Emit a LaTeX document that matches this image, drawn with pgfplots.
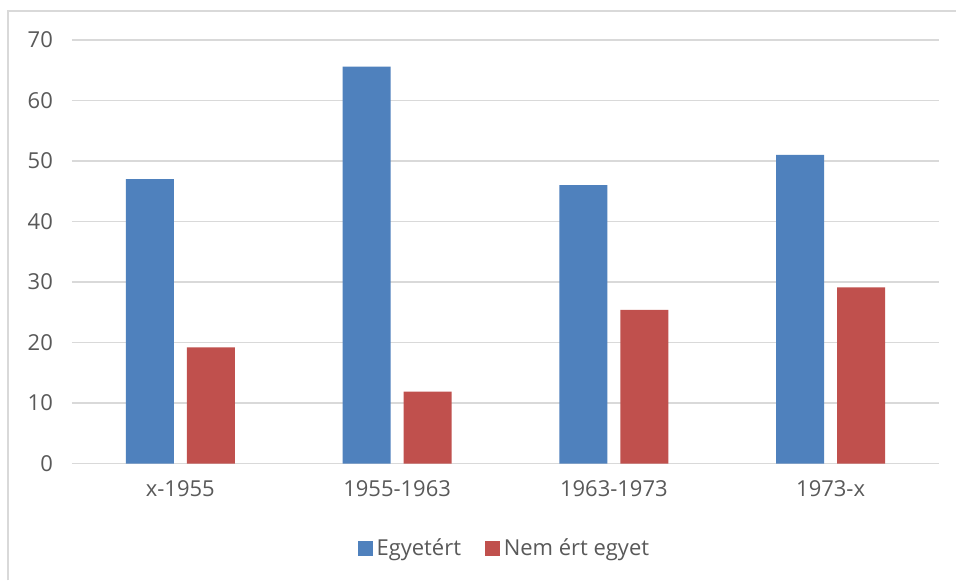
\documentclass[border=0pt]{standalone}
\usepackage{pgfplots}
\pgfplotsset{compat=1.18}
\usepackage{fontspec}
\setmainfont{Open Sans}
\definecolor{cblue}{HTML}{4F81BD}
\definecolor{cred}{HTML}{C0504D}
\definecolor{cgrid}{HTML}{D9D9D9}
\definecolor{ctext}{HTML}{595959}
\begin{document}
\begin{tikzpicture}[font=\fontsize{11}{13}\selectfont]
\path[fill=white] (0,0) rectangle (478.5pt,290.5pt);
\draw[cgrid, line width=1pt] (4pt,0pt) -- (4pt,285pt) -- (478.5pt,285pt);
\begin{axis}[
  at={(36pt,58.5pt)}, anchor=south west,
  scale only axis, width=434pt, height=212pt,
  ybar=6.5pt, bar width=24pt,
  xmin=-0.5, xmax=3.5, ymin=0, ymax=70,
  xtick={0,1,2,3},
  xticklabels={x-1955,1955-1963,1963-1973,1973-x},
  ytick={0,10,...,70},
  ymajorgrids, grid style={cgrid, line width=0.8pt},
  axis line style={draw=none},
  major tick length=0pt,
  tick label style={color=ctext, font=\fontsize{11}{13}\selectfont},
  /pgf/number format/assume math mode=true,
  yticklabel style={xshift=-6pt},
  xticklabel style={yshift=-5pt},
  legend columns=2,
  legend style={at={(0.5,-0.2005)}, anchor=center, draw=none, fill=none,
    font=\fontsize{11}{13}\selectfont, text=ctext,
    /tikz/every even column/.append style={column sep=10pt}},
  legend image code/.code={\fill[#1] (0pt,-3.6pt) rectangle (7.4pt,3.8pt);},
]
\addplot[fill=cblue, draw=none] coordinates {(0,47.0) (1,65.6) (2,46.0) (3,51.0)};
\addplot[fill=cred, draw=none] coordinates {(0,19.2) (1,11.9) (2,25.4) (3,29.1)};
\addlegendentry{Egyetért}
\addlegendentry{Nem ért egyet}
\end{axis}
\end{tikzpicture}
\end{document}
